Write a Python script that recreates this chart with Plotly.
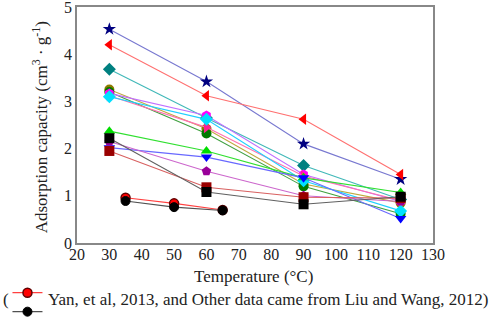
import plotly.graph_objects as go

temps = [30, 60, 90, 120]
yan_temps = [35, 50, 65]

star_navy = [4.53, 3.42, 2.10, 1.35]
tri_red = [4.20, 3.12, 2.62, 1.45]
dia_teal = [3.68, 2.65, 1.64, 0.92]
circ_olive = [3.25, 2.42, 1.25, 0.85]
circ_green = [3.20, 2.32, 1.20, 0.62]
hex_violet = [3.17, 2.70, 1.45, 0.88]
tri_pink = [3.12, 2.45, 1.42, 0.90]
dia_cyan = [3.10, 2.62, 1.32, 0.68]
tri_lime = [2.37, 1.95, 1.38, 1.07]
tri_blue = [2.02, 1.82, 1.38, 0.52]
pent_purple = [2.15, 1.52, 1.00, 0.88]
sq_darkred = [1.95, 1.18, 0.97, 0.95]
sq_black = [2.22, 1.08, 0.82, 0.98]
yan_red = [0.96, 0.84, 0.70]
yan_black = [0.89, 0.76, 0.69]

x_ticks = [20, 30, 40, 50, 60, 70, 80, 90, 100, 110, 120, 130]
y_ticks = [0, 1, 2, 3, 4, 5]

series = [
    (star_navy, "star", "#000080", "#7878d0"),
    (tri_red, "triangle-left", "#ff0000", "#ff7070"),
    (dia_teal, "diamond", "#008080", "#40b8b8"),
    (circ_olive, "circle", "#8c7a00", "#c0a840"),
    (circ_green, "circle", "#007a00", "#40a040"),
    (hex_violet, "hexagon", "#ff00ff", "#c070ff"),
    (tri_pink, "triangle-right", "#ff2090", "#ff70b0"),
    (dia_cyan, "diamond", "#00e0ff", "#20d0ff"),
    (tri_lime, "triangle-up", "#00dd00", "#30e030"),
    (tri_blue, "triangle-down", "#0000ff", "#6868ff"),
    (pent_purple, "pentagon", "#990099", "#cc66cc"),
    (sq_darkred, "square", "#990000", "#d86060"),
    (sq_black, "square", "#000000", "#606060"),
]

fig = go.Figure()
for vals, sym, mc, lc in series:
    fig.add_trace(go.Scatter(
        x=temps, y=vals, mode="lines+markers",
        line=dict(color=lc, width=1.1),
        marker=dict(symbol=sym, size=10, color=mc, line=dict(width=0)),
        showlegend=False))

fig.add_trace(go.Scatter(
    x=yan_temps, y=yan_red, mode="lines+markers", name=" ",
    line=dict(color="#ff4040", width=1.1),
    marker=dict(symbol="circle", size=9, color="#ff0000", line=dict(color="#600000", width=1.5)),
    showlegend=True))
fig.add_trace(go.Scatter(
    x=yan_temps, y=yan_black, mode="lines+markers", name=" ",
    line=dict(color="#505050", width=1.1),
    marker=dict(symbol="circle", size=9, color="#000000", line=dict(color="#000000", width=1)),
    showlegend=True))

font_family = "Liberation Serif, Times New Roman, serif"
txt = dict(family=font_family, size=17, color="#222")

fig.update_layout(
    width=498, height=319,
    margin=dict(l=77, r=65, t=7, b=76),
    paper_bgcolor="white", plot_bgcolor="white",
    font=dict(family=font_family, size=16, color="#222"),
    xaxis=dict(range=[20, 130], tickvals=x_ticks, showgrid=False, zeroline=False,
               showline=True, mirror=True, linecolor="#888", linewidth=1.5,
               ticks="", ticklen=0, tickfont=dict(size=16), automargin=False,
               ticklabeloverflow="allow", ticklabelstandoff=-4),
    yaxis=dict(range=[0, 5], tickvals=y_ticks, showgrid=False, zeroline=False,
               showline=True, mirror=True, linecolor="#888", linewidth=1.5,
               ticks="", ticklen=0, tickfont=dict(size=16), automargin=False,
               ticklabeloverflow="allow"),
    legend=dict(x=0.015, y=0.128, xref="container", yref="container",
                xanchor="left", yanchor="top",
                orientation="v", tracegroupgap=0, itemwidth=30,
                font=dict(size=8), bgcolor="rgba(0,0,0,0)"),
    annotations=[
        dict(text="Adsorption capacity (cm<sup>3</sup> · g<sup>-1</sup>)",
             xref="paper", yref="paper", x=-0.104, y=0.49, textangle=-90,
             showarrow=False, xanchor="center", yanchor="middle", font=txt),
        dict(text="Temperature (°C)", xref="paper", yref="paper", x=0.497, y=-0.14,
             showarrow=False, xanchor="center", yanchor="middle", font=txt),
        dict(text="(", xref="paper", yref="paper", x=-0.213, y=-0.2415,
             showarrow=False, xanchor="left", yanchor="middle", font=txt),
        dict(text="Yan, et al, 2013, and Other data came from Liu and Wang, 2012)",
             xref="paper", yref="paper", x=-0.086, y=-0.2415,
             showarrow=False, xanchor="left", yanchor="middle", font=txt),
    ],
)

fig.write_html("out.html", config={"displayModeBar": False},
               post_script="document.body.style.margin='0px';document.body.style.padding='0px';")
